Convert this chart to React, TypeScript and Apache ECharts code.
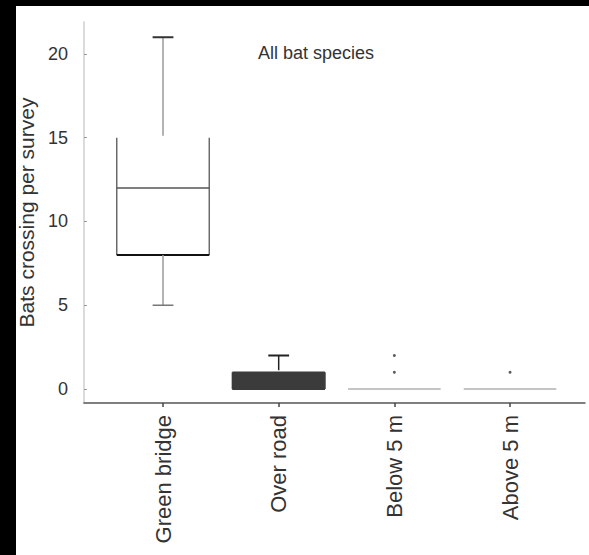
import React, { useEffect, useRef } from "react";
import * as echarts from "echarts";

// ---- data ----
const categories = ["Green bridge", "Over road", "Below 5 m", "Above 5 m"];
// [min, q1, median, q3, max]
const boxValues = [
  [5, 8, 12, 15, 21],
  [0, 0, 0, 1, 2],
  [0, 0, 0, 0, 0],
  [0, 0, 0, 0, 0],
];
// outliers: [categoryIndex, value]
const outliers = [
  [2, 1],
  [2, 2],
  [3, 1],
];
const yTickValues = [0, 5, 10, 15, 20];
const title = "All bat species";
const yAxisName = "Bats crossing per survey";

// per-box look (styles kept separate from the values)
const boxStyles = [
  { fill: "#ffffff", side: "#6a6a6a", median: "#555555", bottom: "#111111", top: false, whisker: "#9a9a9a", cap: "#333333", lowCap: "#777777" },
  { fill: "#3b3b3b", side: "#3b3b3b", median: "#3b3b3b", bottom: "#3b3b3b", top: true, whisker: "#222222", cap: "#222222", lowCap: "#222222" },
  { fill: "#ffffff", side: "#b0b0b0", median: "#b0b0b0", bottom: "#b0b0b0", top: true, whisker: "#b0b0b0", cap: "#b0b0b0", lowCap: "#b0b0b0" },
  { fill: "#ffffff", side: "#b0b0b0", median: "#b0b0b0", bottom: "#b0b0b0", top: true, whisker: "#b0b0b0", cap: "#b0b0b0", lowCap: "#b0b0b0" },
];

const FONT = "'Liberation Sans', Arial, sans-serif";

export default function App() {
  const ref = useRef<HTMLDivElement>(null);
  useEffect(() => {
    if (!ref.current) return;
    const chart = echarts.init(ref.current, undefined, { renderer: "svg" });

    const boxData = boxValues.map((v, i) => [i + 1, ...v]);

    const renderItem = (params: any, api: any) => {
      const idx = params.dataIndex;
      const st = boxStyles[idx];
      const x = api.value(0);
      const vMin = api.value(1);
      const vQ1 = api.value(2);
      const vMed = api.value(3);
      const vQ3 = api.value(4);
      const vMax = api.value(5);
      const c = (v: number) => api.coord([x, v]);
      const bw = api.size([0.8, 0])[0];
      const cw = api.size([0.18, 0])[0];
      const cx = c(vMed)[0];
      const yMin = c(vMin)[1];
      const yQ1 = c(vQ1)[1];
      const yMed = c(vMed)[1];
      const yQ3 = c(vQ3)[1];
      const yMax = c(vMax)[1];
      const l = cx - bw / 2;
      const r = cx + bw / 2;
      const children: any[] = [];
      const line = (x1: number, y1: number, x2: number, y2: number, stroke: string, w: number) =>
        children.push({ type: "line", shape: { x1, y1, x2, y2 }, style: { stroke, lineWidth: w } });

      if (yQ1 - yQ3 > 0.5) {
        children.push({
          type: "rect",
          shape: { x: l, y: yQ3, width: bw, height: yQ1 - yQ3 },
          style: { fill: st.fill, stroke: "none" },
        });
        line(l, yQ3, l, yQ1, st.side, 1.5);
        line(r, yQ3, r, yQ1, st.side, 1.5);
        if (st.top) line(l, yQ3, r, yQ3, st.side, 1.5);
        line(l, yMed, r, yMed, st.median, 1.5);
        line(l, yQ1, r, yQ1, st.bottom, 2);
      } else {
        line(l, yQ1, r, yQ1, st.median, 1.5);
      }
      if (yQ3 - yMax > 0.5) {
        line(cx, yQ3 - 2, cx, yMax, st.whisker, 1.5);
        line(cx - cw / 2, yMax, cx + cw / 2, yMax, st.cap, 2);
      }
      if (yMin - yQ1 > 0.5) {
        line(cx, yQ1, cx, yMin, st.whisker, 1.5);
        line(cx - cw / 2, yMin, cx + cw / 2, yMin, st.lowCap, 1.5);
      }
      return { type: "group", children };
    };

    chart.setOption({
      animation: false,
      backgroundColor: "#ffffff",
      grid: { left: 68, right: 4, top: 16, bottom: 152, containLabel: false, outerBoundsMode: "none" },
      graphic: [
        {
          type: "text",
          x: 300,
          y: 47,
          style: {
            text: title,
            fontFamily: FONT,
            fontSize: 18,
            fill: "#333",
            textAlign: "center",
            textVerticalAlign: "middle",
          },
        },
      ],
      xAxis: {
        type: "value",
        min: 0.317,
        max: 4.648,
        splitLine: { show: false },
        axisLine: { show: true, onZero: false, lineStyle: { color: "#555", width: 1.5 } },
        axisTick: { show: true, customValues: [1, 2, 3, 4], length: 4, lineStyle: { color: "#444", width: 1.5 } },
        axisLabel: {
          customValues: [1, 2, 3, 4],
          formatter: (v: number) => categories[Math.round(v) - 1] ?? "",
          rotate: 90,
          margin: 12,
          fontFamily: FONT,
          fontSize: 22,
          color: "#333",
        },
      },
      yAxis: {
        type: "value",
        min: -0.836,
        max: 21.91,
        name: yAxisName,
        nameLocation: "middle",
        nameGap: 42,
        nameTextStyle: { fontFamily: FONT, fontSize: 21, color: "#333" },
        splitLine: { show: false },
        axisLine: { show: true, onZero: false, lineStyle: { color: "#cfcfcf", width: 1.5 } },
        axisTick: { show: true, inside: true, customValues: yTickValues, length: 3, lineStyle: { color: "#999" } },
        axisLabel: {
          customValues: yTickValues,
          margin: 16,
          fontFamily: FONT,
          fontSize: 18,
          color: "#333",
        },
      },
      series: [
        {
          type: "custom",
          renderItem,
          data: boxData,
          encode: { x: 0, y: [1, 2, 3, 4, 5] },
          z: 2,
        },
        {
          type: "scatter",
          data: outliers.map(([i, v]) => [i + 1, v]),
          symbol: "circle",
          symbolSize: 3,
          itemStyle: { color: "#333" },
          z: 3,
        },
      ],
    });
    return () => chart.dispose();
  }, []);

  return (
    <div style={{ position: "fixed", left: 0, top: 0, width: 589, height: 555, background: "#000" }}>
      <div
        ref={ref}
        style={{ position: "absolute", left: 16, top: 6, width: 573, height: 549, background: "#fff" }}
      />
    </div>
  );
}
